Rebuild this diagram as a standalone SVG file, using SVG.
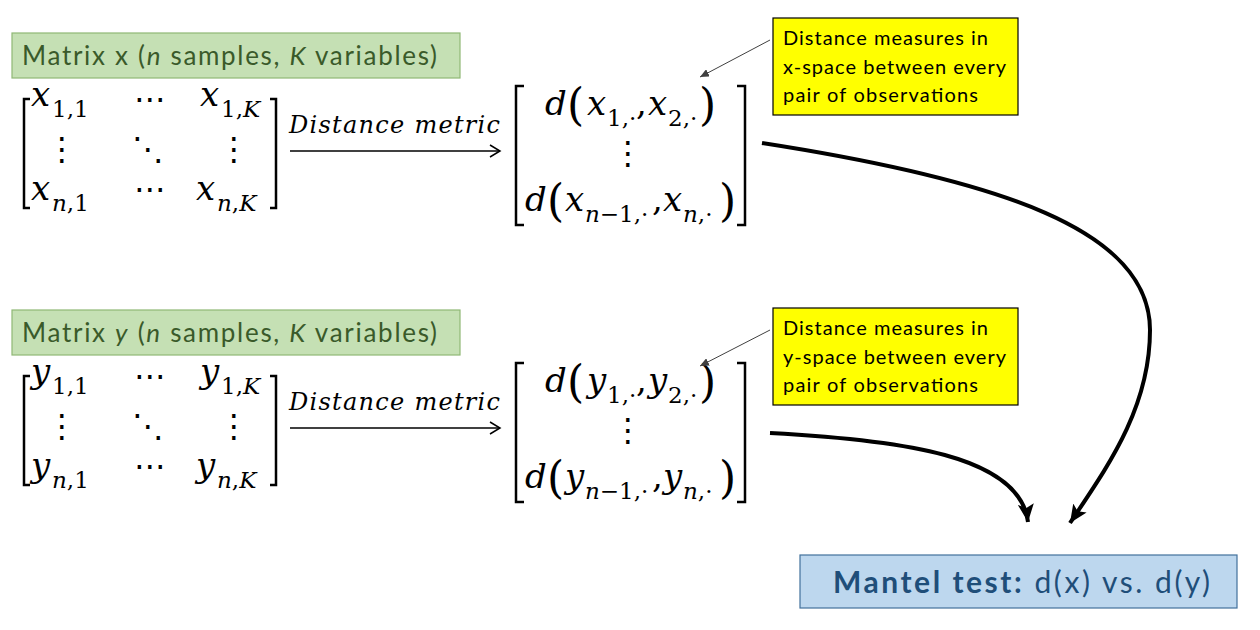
<svg xmlns="http://www.w3.org/2000/svg" width="1260" height="630" viewBox="0 0 1260 630">
<defs>
<style>
.lbl{font-family:Lato,"Liberation Sans",sans-serif;}
.mi{font-family:"DejaVu Serif","Liberation Serif",serif;font-style:italic;font-size:34px;fill:#000;}
.sub{font-family:"DejaVu Serif","Liberation Serif",serif;font-size:23px;fill:#000;}
.it{font-style:italic;}
.dots{font-family:"DejaVu Sans","Liberation Sans",sans-serif;font-size:32px;fill:#000;text-anchor:middle;}
.par{font-family:"DejaVu Serif","Liberation Serif",serif;font-size:44px;fill:#000;}
.br{fill:none;stroke:#000;stroke-width:2.5;}
.green{fill:#c5e0b4;stroke:#8fb875;stroke-width:1.2;}
.yellow{fill:#ffff00;stroke:#000;stroke-width:1.2;}
.blue{fill:#bdd7ee;stroke:#41719c;stroke-width:1.2;}
.gtxt{font-size:26px;fill:#3a5a2a;}
.ytxt{font-size:20px;fill:#000;}
.btxt{font-size:30px;fill:#1f4e79;}
.big{fill:none;stroke:#000;stroke-width:4;}
.lead{fill:none;stroke:#404040;stroke-width:1;}
.thin{fill:none;stroke:#000;stroke-width:1.5;}
</style>
<marker id="ah" markerUnits="userSpaceOnUse" markerWidth="20" markerHeight="16" refX="18" refY="8" orient="auto">
<path d="M0,0 L18,8 L0,16 L4,8 Z" fill="#000"/>
</marker>
<marker id="ahs" markerUnits="userSpaceOnUse" markerWidth="10" markerHeight="8" refX="9" refY="4" orient="auto">
<path d="M0,0 L9,4 L0,8 Z" fill="#404040"/>
</marker>
</defs>

<g id="label-x">
<rect class="green" x="12" y="33" width="448" height="45"/>
<text class="lbl gtxt" x="22" y="65" textLength="415">Matrix x (<tspan class="it">n</tspan> samples, <tspan class="it">K</tspan> variables)</text>
</g>

<g id="matrix-x">
<path class="br" d="M30,99 L24,99 L24,208 L30,208"/>
<path class="br" d="M270,99 L276,99 L276,208 L270,208"/>
<text class="mi" x="31" y="106">x</text><text class="sub" x="52" y="117">1,1</text>
<text class="dots" x="150" y="110">⋯</text>
<text class="mi" x="200" y="106">x</text><text class="sub" x="221" y="117">1,<tspan class="it">K</tspan></text>
<text class="dots" x="62" y="160">⋮</text>
<text class="dots" x="148" y="160">⋱</text>
<text class="dots" x="234" y="160">⋮</text>
<text class="mi" x="31" y="200">x</text><text class="sub" x="52" y="211"><tspan class="it">n</tspan>,1</text>
<text class="dots" x="150" y="200">⋯</text>
<text class="mi" x="196" y="200">x</text><text class="sub" x="217" y="211"><tspan class="it">n</tspan>,<tspan class="it">K</tspan></text>
</g>

<g id="metric-x">
<text class="mi" x="289" y="133" style="font-size:24px" textLength="211">Distance metric</text>
</g>

<g id="dist-x">
<path class="br" d="M524,86 L516,86 L516,225 L524,225"/>
<path class="br" d="M737,86 L745,86 L745,225 L737,225"/>
<text class="mi" x="545" y="115">d</text>
<text class="par" x="567" y="120">(</text>
<text class="mi" x="587" y="115">x</text><text class="sub" x="607" y="126">1,·</text>
<text class="mi" x="636" y="115" style="font-style:normal">,</text>
<text class="mi" x="648" y="115">x</text><text class="sub" x="668" y="126">2,·</text>
<text class="par" x="699" y="120">)</text>
<text class="dots" x="628" y="164">⋮</text>
<text class="mi" x="525" y="211">d</text>
<text class="par" x="547" y="216">(</text>
<text class="mi" x="565" y="211">x</text><text class="sub" x="585" y="222"><tspan class="it">n</tspan>−1,·</text>
<text class="mi" x="652" y="211" style="font-style:normal">,</text>
<text class="mi" x="663" y="211">x</text><text class="sub" x="683" y="222"><tspan class="it">n</tspan>,·</text>
<text class="par" x="719" y="216">)</text>
</g>

<g id="note-x">
<rect class="yellow" x="773" y="18" width="245" height="97"/>
<text class="lbl ytxt" x="783" y="45" textLength="205">Distance measures in</text>
<text class="lbl ytxt" x="783" y="74" textLength="223">x-space between every</text>
<text class="lbl ytxt" x="783" y="102" textLength="195">pair of observations</text>
</g>

<g id="label-y">
<rect class="green" x="12" y="310" width="448" height="45"/>
<text class="lbl gtxt" x="22" y="342" textLength="415">Matrix <tspan class="it">y</tspan> (<tspan class="it">n</tspan> samples, <tspan class="it">K</tspan> variables)</text>
</g>

<g id="matrix-y">
<path class="br" d="M30,376 L24,376 L24,485 L30,485"/>
<path class="br" d="M270,376 L276,376 L276,485 L270,485"/>
<text class="mi" x="31" y="383">y</text><text class="sub" x="52" y="394">1,1</text>
<text class="dots" x="150" y="387">⋯</text>
<text class="mi" x="200" y="383">y</text><text class="sub" x="221" y="394">1,<tspan class="it">K</tspan></text>
<text class="dots" x="62" y="437">⋮</text>
<text class="dots" x="148" y="437">⋱</text>
<text class="dots" x="234" y="437">⋮</text>
<text class="mi" x="31" y="477">y</text><text class="sub" x="52" y="488"><tspan class="it">n</tspan>,1</text>
<text class="dots" x="150" y="477">⋯</text>
<text class="mi" x="196" y="477">y</text><text class="sub" x="217" y="488"><tspan class="it">n</tspan>,<tspan class="it">K</tspan></text>
</g>

<g id="metric-y">
<text class="mi" x="289" y="410" style="font-size:24px" textLength="211">Distance metric</text>
</g>

<g id="dist-y">
<path class="br" d="M524,363 L516,363 L516,502 L524,502"/>
<path class="br" d="M737,363 L745,363 L745,502 L737,502"/>
<text class="mi" x="545" y="392">d</text>
<text class="par" x="567" y="397">(</text>
<text class="mi" x="587" y="392">y</text><text class="sub" x="607" y="403">1,·</text>
<text class="mi" x="636" y="392" style="font-style:normal">,</text>
<text class="mi" x="648" y="392">y</text><text class="sub" x="668" y="403">2,·</text>
<text class="par" x="699" y="397">)</text>
<text class="dots" x="628" y="441">⋮</text>
<text class="mi" x="525" y="488">d</text>
<text class="par" x="547" y="493">(</text>
<text class="mi" x="565" y="488">y</text><text class="sub" x="585" y="499"><tspan class="it">n</tspan>−1,·</text>
<text class="mi" x="652" y="488" style="font-style:normal">,</text>
<text class="mi" x="663" y="488">y</text><text class="sub" x="683" y="499"><tspan class="it">n</tspan>,·</text>
<text class="par" x="719" y="493">)</text>
</g>

<g id="note-y">
<rect class="yellow" x="773" y="308" width="245" height="97"/>
<text class="lbl ytxt" x="783" y="335" textLength="205">Distance measures in</text>
<text class="lbl ytxt" x="783" y="364" textLength="223">y-space between every</text>
<text class="lbl ytxt" x="783" y="392" textLength="195">pair of observations</text>
</g>

<g id="mantel">
<rect class="blue" x="800" y="555" width="437" height="53"/>
<text class="lbl btxt" x="833" y="593" textLength="377"><tspan font-weight="bold">Mantel test:</tspan> d(x) vs. d(y)</text>
</g>

<g id="connectors">
<path class="thin" d="M290,151 L500,151"/>
<path class="thin" d="M490,145 L500,151 L490,157"/>
<path class="thin" d="M290,428 L500,428"/>
<path class="thin" d="M490,422 L500,428 L490,434"/>
<path class="lead" d="M770,40 L700,77" marker-end="url(#ahs)"/>
<path class="lead" d="M770,330 L700,366" marker-end="url(#ahs)"/>
<path class="big" d="M762,143 C1000,180 1150,230 1150,330 C1150,410 1105,470 1070,523" marker-end="url(#ah)"/>
<path class="big" d="M770,433 C900,440 1020,455 1028,522" marker-end="url(#ah)"/>
</g>
</svg>
